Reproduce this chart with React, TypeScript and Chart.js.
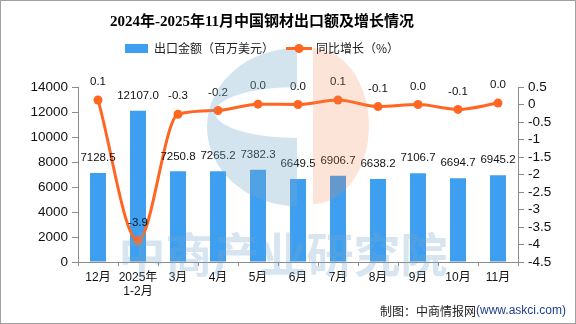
import React, { useEffect, useRef } from "react";
import { Chart, registerables } from "chart.js";

Chart.register(...registerables);

const categories: (string | string[])[] = ["12月", ["2025年", "1-2月"], "3月", "4月", "5月", "6月", "7月", "8月", "9月", "10月", "11月"];
const exportValues = [7128.5, 12107.0, 7250.8, 7265.2, 7382.3, 6649.5, 6906.7, 6638.2, 7106.7, 6694.7, 6945.2];
const growthValues = [0.13, -3.89, -0.28, -0.17, 0.01, 0.0, 0.13, -0.06, 0.0, -0.14, 0.04];

const titleText = "2024年-2025年11月中国钢材出口额及增长情况";
const barLegend = "出口金额（百万美元）";
const lineLegend = "同比增长（%）";
const sourcePrefix = "制图：中商情报网";
const sourceUrl = "(www.askci.com)";
const watermarkText = "中商产业研究院";

const BAR_COLOR = "#3e9ef0";
const LINE_COLOR = "#ff6622";
const AXIS_COLOR = "#8c8c8c";
const CJK = '"Noto Sans CJK SC", "Liberation Sans", sans-serif';
const NUM = '"Liberation Sans", "Noto Sans CJK SC", sans-serif';

function fmt1(v: number): string {
  const r = Math.round(v * 10) / 10;
  return (r === 0 ? 0 : r).toFixed(1);
}

function fmtTick(v: number): string {
  const r = Math.round(v * 100) / 100;
  return String(r === 0 ? 0 : r);
}

const decorPlugin = {
  id: "decor",
  afterDatasetsDraw(chart: any) {
    const ctx = chart.ctx as CanvasRenderingContext2D;
    ctx.save();
    ctx.font = `11.5px ${NUM}`;
    ctx.fillStyle = "#111";
    ctx.textAlign = "center";
    ctx.textBaseline = "middle";
    const barMeta = chart.getDatasetMeta(0);
    barMeta.data.forEach((el: any, i: number) => {
      ctx.fillText(exportValues[i].toFixed(1), el.x, el.y - 15);
    });
    const lineMeta = chart.getDatasetMeta(1);
    lineMeta.data.forEach((el: any, i: number) => {
      ctx.fillText(fmt1(growthValues[i]), el.x, el.y - 18);
    });
    ctx.restore();
  },
  afterDraw(chart: any) {
    const ctx = chart.ctx as CanvasRenderingContext2D;
    ctx.save();
    // watermark logo
    ctx.fillStyle = "rgba(120,170,205,0.32)";
    ctx.beginPath();
    ctx.ellipse(297, 127, 90, 79, 0, Math.PI / 2, (3 * Math.PI) / 2, false);
    ctx.closePath();
    ctx.moveTo(297, 138);
    ctx.ellipse(297, 112.5, 82, 25.5, 0, Math.PI / 2, (3 * Math.PI) / 2, false);
    ctx.closePath();
    ctx.fill("evenodd");
    ctx.fillStyle = "rgba(240,130,80,0.22)";
    ctx.beginPath();
    ctx.ellipse(313, 126, 56, 78, 0, -Math.PI / 2, Math.PI / 2, false);
    ctx.closePath();
    ctx.fill();
    // watermark text
    ctx.fillStyle = "rgba(120,170,205,0.3)";
    ctx.font = `bold 47px ${CJK}`;
    ctx.textAlign = "center";
    ctx.textBaseline = "middle";
    ctx.fillText(watermarkText, 283, 254);

    // title
    ctx.fillStyle = "#000";
    ctx.font = `bold 15px "Liberation Serif", "Noto Sans CJK SC", serif`;
    ctx.textAlign = "center";
    ctx.textBaseline = "middle";
    ctx.fillText(titleText, 262, 22);

    // legend
    ctx.fillStyle = BAR_COLOR;
    ctx.fillRect(125, 44, 23, 9);
    ctx.fillStyle = "#222";
    ctx.font = `12px ${CJK}`;
    ctx.textAlign = "left";
    ctx.fillText(barLegend, 154, 48.5);
    ctx.strokeStyle = LINE_COLOR;
    ctx.lineWidth = 3;
    ctx.beginPath();
    ctx.moveTo(286, 48.5);
    ctx.lineTo(312, 48.5);
    ctx.stroke();
    ctx.fillStyle = LINE_COLOR;
    ctx.beginPath();
    ctx.arc(299, 48.5, 4.5, 0, Math.PI * 2);
    ctx.fill();
    ctx.fillStyle = "#222";
    ctx.fillText(lineLegend, 316, 48.5);

    // source
    ctx.textAlign = "right";
    ctx.font = `12px ${NUM}`;
    ctx.fillStyle = "#1f3d8f";
    ctx.fillText(sourceUrl, 566, 311);
    const w = ctx.measureText(sourceUrl).width;
    ctx.font = `12px ${CJK}`;
    ctx.fillStyle = "#222";
    ctx.fillText(sourcePrefix, 566 - w, 311);

    // border
    ctx.strokeStyle = "#a0a0a0";
    ctx.lineWidth = 1;
    ctx.strokeRect(0.5, 0.5, 575, 323);
    ctx.restore();
  },
};

export default function App() {
  const ref = useRef<HTMLCanvasElement>(null);
  useEffect(() => {
    if (!ref.current) return;
    const chart = new Chart(ref.current, {
      type: "bar",
      data: {
        labels: categories as any,
        datasets: [
          {
            type: "bar",
            label: barLegend,
            data: exportValues,
            backgroundColor: BAR_COLOR,
            yAxisID: "y",
            barPercentage: 0.4,
            categoryPercentage: 1,
            order: 2,
          },
          {
            type: "line",
            label: lineLegend,
            data: growthValues,
            borderColor: LINE_COLOR,
            backgroundColor: LINE_COLOR,
            borderWidth: 3,
            pointRadius: 4.5,
            pointBackgroundColor: LINE_COLOR,
            pointBorderWidth: 0,
            cubicInterpolationMode: "monotone",
            yAxisID: "y1",
            order: 1,
          } as any,
        ],
      },
      options: {
        responsive: false,
        animation: false,
        devicePixelRatio: 1,
        layout: { padding: { top: 87, left: 0, right: 0, bottom: 0 } },
        plugins: {
          legend: { display: false },
          title: { display: false },
          tooltip: { enabled: false },
        },
        scales: {
          x: {
            offset: true,
            grid: { offset: true, drawOnChartArea: false, drawTicks: true, tickLength: 4, color: AXIS_COLOR },
            border: { color: AXIS_COLOR, width: 1 },
            ticks: { color: "#111", font: { size: 12, family: NUM }, padding: 4, maxRotation: 0, autoSkip: false },
            afterFit: (s: any) => { s.height = 62; },
          },
          y: {
            position: "left",
            min: 0,
            max: 14000,
            ticks: {
              stepSize: 2000,
              autoSkip: false,
              color: "#111",
              font: { size: 13.5, family: NUM },
              padding: 4,
              callback: (v: any) => fmtTick(Number(v)),
            },
            grid: { drawOnChartArea: false, tickLength: 6, color: AXIS_COLOR },
            border: { color: AXIS_COLOR, width: 1 },
            afterFit: (s: any) => { s.width = 78; },
          },
          y1: {
            position: "right",
            min: -4.5,
            max: 0.5,
            ticks: {
              stepSize: 0.5,
              autoSkip: false,
              color: "#111",
              font: { size: 13.5, family: NUM },
              padding: 4,
              callback: (v: any) => fmtTick(Number(v)),
            },
            grid: { drawOnChartArea: false, tickLength: 6, color: AXIS_COLOR },
            border: { color: AXIS_COLOR, width: 1 },
            afterFit: (s: any) => { s.width = 58; },
          },
        },
      },
      plugins: [decorPlugin],
    });
    return () => chart.destroy();
  }, []);
  return (
    <div style={{ position: "absolute", left: 0, top: 0, width: 576, height: 324, background: "#fff" }}>
      <canvas ref={ref} width={576} height={324} style={{ display: "block" }} />
    </div>
  );
}
